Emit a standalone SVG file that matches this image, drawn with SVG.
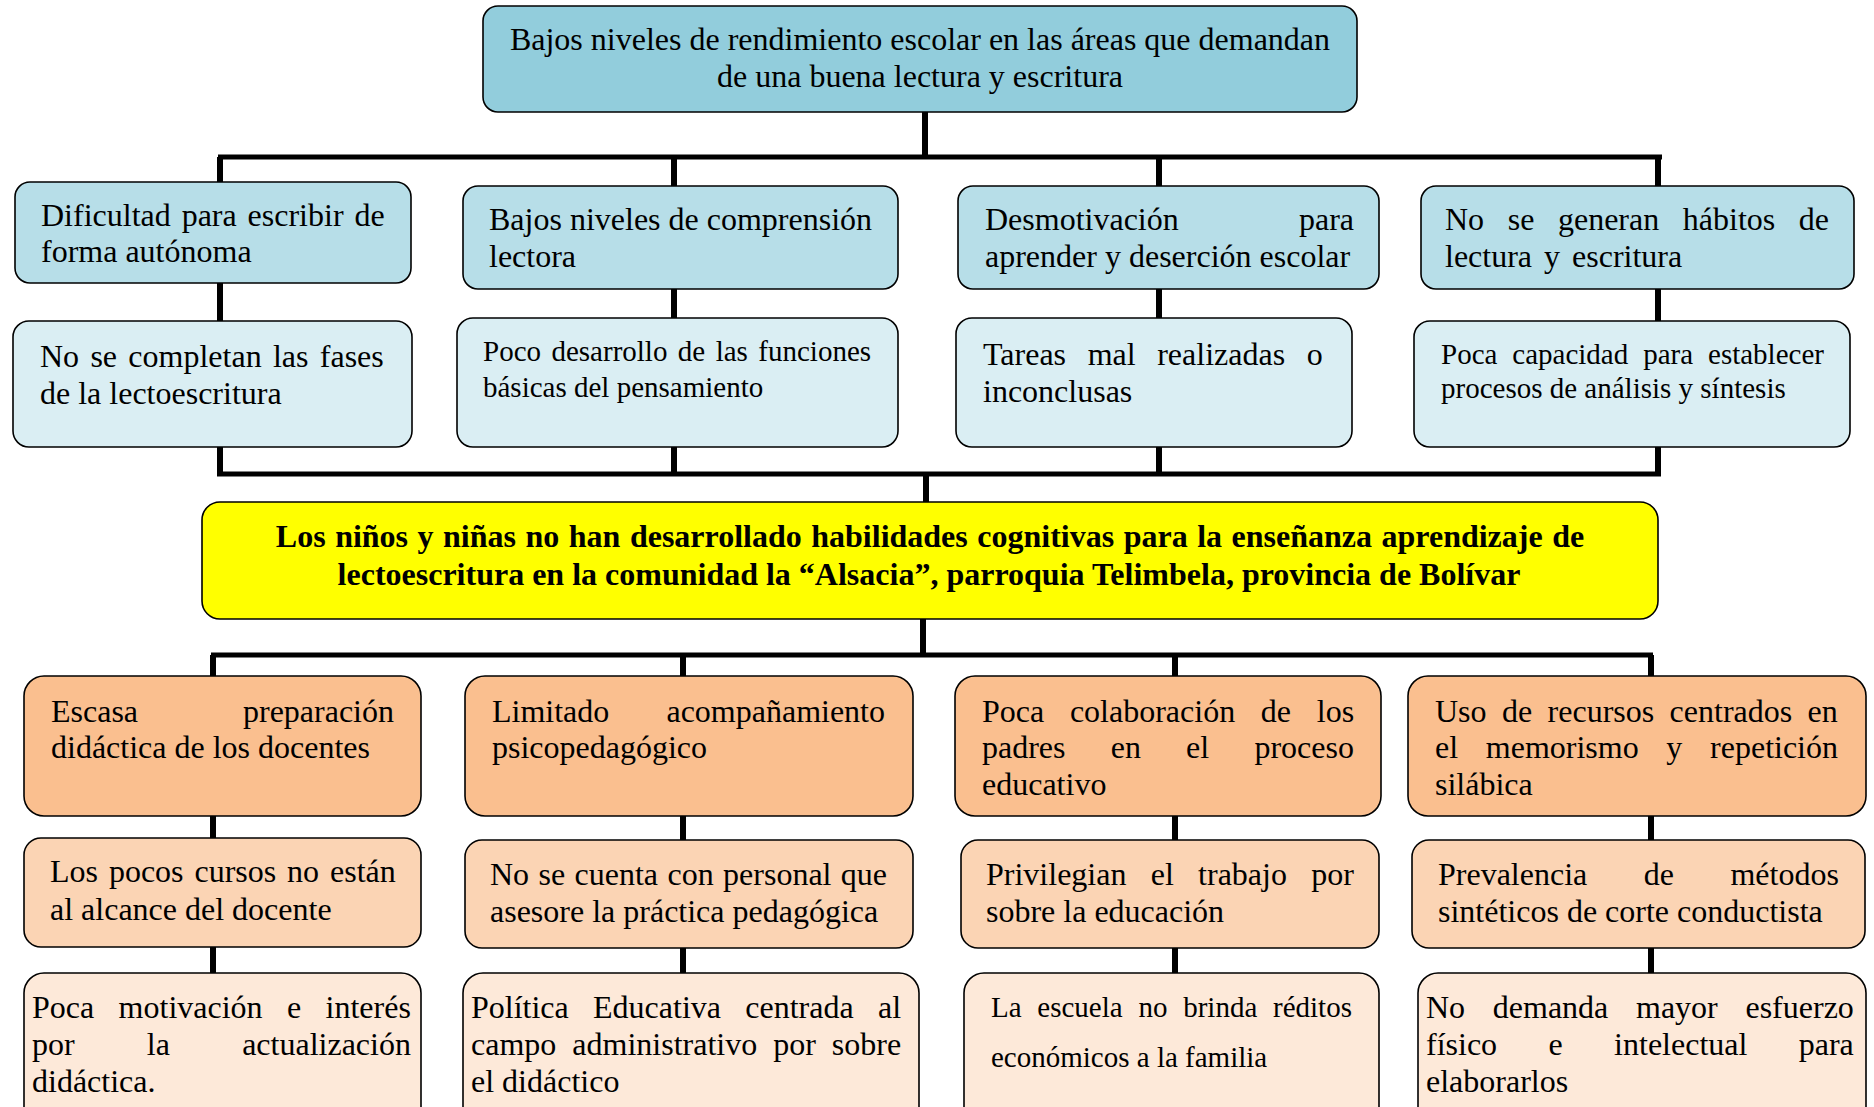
<svg xmlns="http://www.w3.org/2000/svg" width="1874" height="1107" viewBox="0 0 1874 1107">
<style>
.box{stroke:#000;stroke-width:1.6}
.top{fill:#92CDDC}
.l1{fill:#B7DEE8}
.l2{fill:#DAEEF3}
.yel{fill:#FFFF00}
.o1{fill:#FABF8F}
.o2{fill:#FBD4B4}
.o3{fill:#FDE9D9}
text{font-family:"Liberation Serif","Times New Roman",serif;font-size:32px;fill:#000}
.sm{font-size:29px}
.b{font-weight:bold}
.mid{text-anchor:middle}
.end{text-anchor:end}
.stem{stroke:#000;stroke-width:6;fill:none}
.bar{stroke:#000;stroke-width:5;fill:none}
</style>
<rect width="1874" height="1107" fill="#fff"/>
<g id="connectors">
<path class="stem" d="M925 112V157"/>
<path class="bar" d="M218 157H1662"/>
<path class="stem" d="M220 157V182M674 157V186M1159 157V186M1658 157V186"/>
<path class="stem" d="M220 283V321M674 289V318M1159 289V318M1658 289V321"/>
<path class="stem" d="M220 447V474M674 447V474M1159 447V474M1658 447V474"/>
<path class="bar" d="M217 474H1661"/>
<path class="stem" d="M926 474V502"/>
<path class="stem" d="M923 619V655"/>
<path class="bar" d="M211 655H1653"/>
<path class="stem" d="M213 655V676M683 655V676M1175 655V676M1651 655V676"/>
<path class="stem" d="M213 816V838M683 816V840M1175 816V840M1651 816V840"/>
<path class="stem" d="M213 947V973M683 948V973M1175 948V973M1651 948V973"/>
</g>
<g id="n-top">
<rect class="box top" x="483" y="6" width="874" height="106" rx="15"/>
<text class="mid" x="920" y="50">Bajos niveles de rendimiento escolar en las áreas que demandan</text>
<text class="mid" x="920" y="87">de una buena lectura y escritura</text>
</g>
<g id="n-b1">
<rect class="box l1" x="15" y="182" width="396" height="101" rx="15"/>
<text x="41" y="226" style="word-spacing:2.9px">Dificultad para escribir de</text>
<text x="41" y="262">forma autónoma</text>
</g>
<g id="n-b2">
<rect class="box l1" x="463" y="186" width="435" height="103" rx="15"/>
<text x="489" y="230">Bajos niveles de comprensión</text>
<text x="489" y="267">lectora</text>
</g>
<g id="n-b3">
<rect class="box l1" x="958" y="186" width="421" height="103" rx="15"/>
<text x="985" y="230">Desmotivación</text>
<text class="end" x="1354" y="230">para</text>
<text x="985" y="267">aprender y deserción escolar</text>
</g>
<g id="n-b4">
<rect class="box l1" x="1421" y="186" width="433" height="103" rx="15"/>
<text x="1445" y="230" style="word-spacing:15.6px">No se generan hábitos de</text>
<text x="1445" y="267" style="word-spacing:4px">lectura y escritura</text>
</g>
<g id="n-c1">
<rect class="box l2" x="13" y="321" width="399" height="126" rx="16"/>
<text x="40" y="367" style="word-spacing:3.3px">No se completan las fases</text>
<text x="40" y="404">de la lectoescritura</text>
</g>
<g id="n-c2">
<rect class="box l2" x="457" y="318" width="441" height="129" rx="16"/>
<text class="sm" x="483" y="361" style="word-spacing:3.2px">Poco desarrollo de las funciones</text>
<text class="sm" x="483" y="397">básicas del pensamiento</text>
</g>
<g id="n-c3">
<rect class="box l2" x="956" y="318" width="396" height="129" rx="16"/>
<text x="983" y="365" style="word-spacing:13.6px">Tareas mal realizadas o</text>
<text x="983" y="402">inconclusas</text>
</g>
<g id="n-c4">
<rect class="box l2" x="1414" y="321" width="436" height="126" rx="16"/>
<text class="sm" x="1441" y="364" style="word-spacing:7.7px">Poca capacidad para establecer</text>
<text class="sm" x="1441" y="398">procesos de análisis y síntesis</text>
</g>
<g id="n-core">
<rect class="box yel" x="202" y="502" width="1456" height="117" rx="18"/>
<text class="b mid" x="930" y="547" style="word-spacing:1.5px">Los niños y niñas no han  desarrollado  habilidades cognitivas para la enseñanza aprendizaje  de</text>
<text class="b mid" x="929" y="585">lectoescritura en la comunidad  la “Alsacia”, parroquia Telimbela, provincia de Bolívar</text>
</g>
<g id="n-o1a">
<rect class="box o1" x="24" y="676" width="397" height="140" rx="20"/>
<text x="51" y="722">Escasa</text>
<text class="end" x="394" y="722">preparación</text>
<text x="51" y="758">didáctica de los docentes</text>
</g>
<g id="n-o1b">
<rect class="box o1" x="465" y="676" width="448" height="140" rx="20"/>
<text x="492" y="722">Limitado</text>
<text class="end" x="885" y="722">acompañamiento</text>
<text x="492" y="758">psicopedagógico</text>
</g>
<g id="n-o1c">
<rect class="box o1" x="955" y="676" width="426" height="140" rx="20"/>
<text x="982" y="722" style="word-spacing:17.7px">Poca colaboración de los</text>
<text x="982" y="758" style="word-spacing:37.2px">padres en el proceso</text>
<text x="982" y="795">educativo</text>
</g>
<g id="n-o1d">
<rect class="box o1" x="1408" y="676" width="458" height="140" rx="20"/>
<text x="1435" y="722" style="word-spacing:7.4px">Uso de recursos centrados en</text>
<text x="1435" y="758" style="word-spacing:19.7px">el memorismo y repetición</text>
<text x="1435" y="795">silábica</text>
</g>
<g id="n-o2a">
<rect class="box o2" x="24" y="838" width="397" height="109" rx="17"/>
<text x="50" y="882" style="word-spacing:2.9px">Los pocos cursos no están</text>
<text x="50" y="920">al alcance del docente</text>
</g>
<g id="n-o2b">
<rect class="box o2" x="465" y="840" width="448" height="108" rx="17"/>
<text x="490" y="885" style="word-spacing:1.4px">No se cuenta con personal que</text>
<text x="490" y="922">asesore la práctica pedagógica</text>
</g>
<g id="n-o2c">
<rect class="box o2" x="961" y="840" width="418" height="108" rx="17"/>
<text x="986" y="885" style="word-spacing:16.3px">Privilegian el trabajo por</text>
<text x="986" y="922">sobre la educación</text>
</g>
<g id="n-o2d">
<rect class="box o2" x="1412" y="840" width="453" height="108" rx="17"/>
<text x="1438" y="885" style="word-spacing:48.5px">Prevalencia de métodos</text>
<text x="1438" y="922">sintéticos de corte conductista</text>
</g>
<g id="n-o3a">
<rect class="box o3" x="24" y="973" width="397" height="160" rx="20"/>
<text x="32" y="1018" style="word-spacing:16.4px">Poca motivación e interés</text>
<text x="32" y="1055" style="word-spacing:64.2px">por la actualización</text>
<text x="32" y="1092">didáctica.</text>
</g>
<g id="n-o3b">
<rect class="box o3" x="463" y="973" width="456" height="160" rx="20"/>
<text x="471" y="1018" style="word-spacing:16.3px">Política Educativa centrada al</text>
<text x="471" y="1055" style="word-spacing:8px">campo administrativo por sobre</text>
<text x="471" y="1092">el didáctico</text>
</g>
<g id="n-o3c">
<rect class="box o3" x="964" y="973" width="415" height="160" rx="20"/>
<text class="sm" x="991" y="1017" style="word-spacing:8.5px">La escuela no brinda réditos</text>
<text class="sm" x="991" y="1067">económicos a la familia</text>
</g>
<g id="n-o3d">
<rect class="box o3" x="1418" y="973" width="448" height="160" rx="20"/>
<text x="1426" y="1018" style="word-spacing:19.7px">No demanda mayor esfuerzo</text>
<text x="1426" y="1055" style="word-spacing:43.4px">físico e intelectual para</text>
<text x="1426" y="1092">elaborarlos</text>
</g>
</svg>
